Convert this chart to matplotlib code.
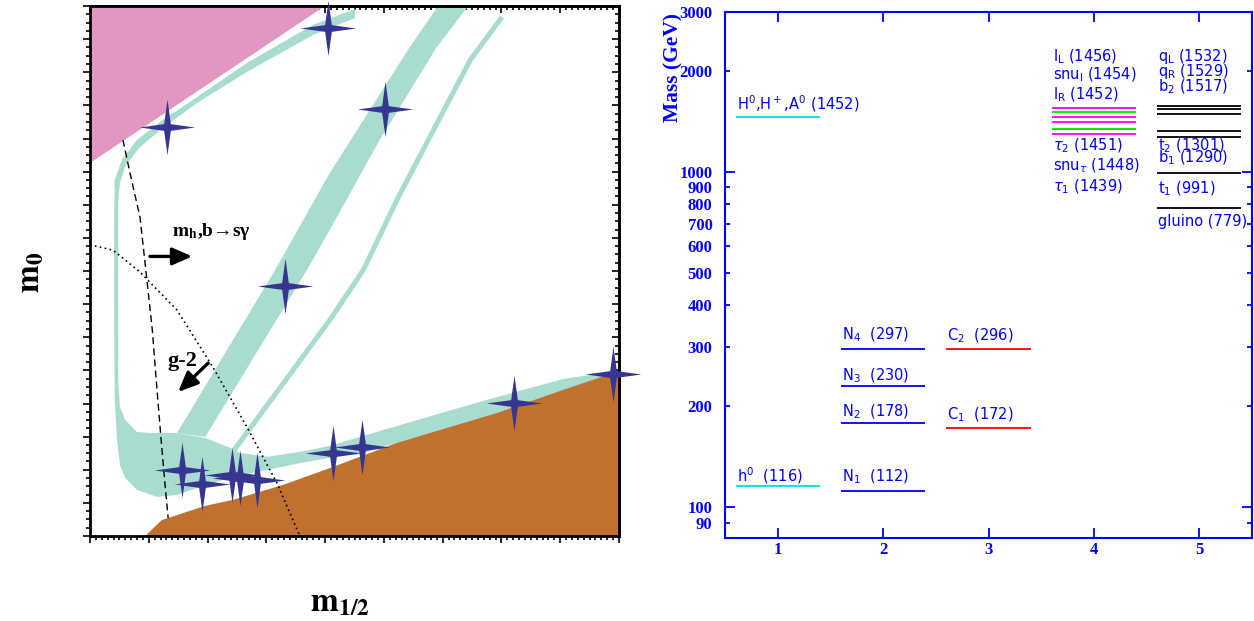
import numpy as np
import matplotlib
matplotlib.use("Agg")
import matplotlib.pyplot as plt
from matplotlib.path import Path
from matplotlib.ticker import MultipleLocator, NullFormatter, NullLocator

# ---- left panel: (m_1/2, m_0) plane, arbitrary units
pink_x = [0, 0, 400]
pink_y = [1126, 1600, 1600]

brown_x = [94, 122, 196, 243, 328, 408, 522, 692, 805, 900, 900]
brown_y = [0, 48, 91, 109, 154, 205, 281, 371, 441, 498, 0]

# focus-point strip + bulk region + coannihilation strip (one outline)
teal_x = [451, 379, 267, 182, 124, 80, 54, 42, 41, 41, 42, 46, 51, 60, 80, 114, 148, 187,
          243, 301, 357, 408, 476, 539, 692, 805, 900,
          900, 839, 805, 663, 522, 476, 408, 357, 301, 255, 243, 196, 148, 102, 80, 60,
          51, 48, 48, 48, 51, 60, 85, 124, 182, 267, 379, 451]
teal_y = [1591, 1543, 1428, 1325, 1256, 1196, 1135, 1075, 954, 713, 411, 290, 214, 175, 139, 118, 124, 148,
          178, 199, 220, 236, 257, 290, 356, 426, 483,
          498, 483, 474, 405, 332, 308, 272, 254, 239, 251, 263, 296, 311, 311, 314, 350,
          389, 471, 713, 1014, 1066, 1117, 1174, 1232, 1307, 1401, 1512, 1564]

# rapid-annihilation funnel band
funnel_x = [148, 315, 408, 476, 544, 590, 641, 590, 493, 408, 369, 196]
funnel_y = [311, 803, 1096, 1286, 1476, 1594, 1594, 1476, 1196, 924, 803, 299]

# thin second funnel strip
thin_x = [243, 408, 465, 522, 596, 647, 701]
thin_y = [254, 652, 803, 1014, 1265, 1437, 1567]

# m_h / b->s gamma (dashed) and g-2 (dotted) limits
mh_x = [56, 68, 85, 95, 106, 114, 121, 128, 133]
mh_y = [1196, 1096, 963, 803, 622, 441, 290, 148, 54]
g2_x = [0, 39, 85, 148, 209, 267, 318, 357]
g2_y = [879, 863, 797, 682, 510, 329, 160, 0]

# benchmark points
star_x = [405, 131, 502, 332, 157, 191, 242, 255, 284, 413, 463, 721, 890]
star_y = [1534, 1235, 1289, 755, 199, 157, 184, 175, 169, 251, 269, 402, 489]

# ---- right panel: mass spectrum
lvl_col = [1, 1, 2, 2, 2, 2, 3, 3, 4, 4, 4, 4, 4, 4, 5, 5, 5, 5, 5, 5, 5]
lvl_mass = [116, 1455, 112, 178, 230, 297, 172, 296,
            1554, 1509, 1455, 1405, 1348, 1299,
            1572, 1543, 1488, 1321, 1273, 994, 781]
lvl_color = ["#00e0e0", "#00e0e0", "#0000ff", "#0000ff", "#0000ff", "#0000ff", "#ff0000", "#ff0000",
             "#ff00ff", "#00e000", "#ff00ff", "#ff00ff", "#00e000", "#ff00ff",
             "k", "k", "k", "k", "k", "k", "k"]

lab_col = [1, 1, 2, 2, 2, 2, 3, 3, 4, 4, 4, 4, 4, 4, 5, 5, 5, 5, 5, 5, 5]
lab_pos = [1594, 124.4, 328, 247, 193, 123.6, 324, 189,
           2201, 1954, 1703, 1194, 1041, 903,
           2215, 2000, 1795, 1194, 1100, 893, 713]
lab_text = ["H$^0$,H$^+$,A$^0$ (1452)", "h$^0$  (116)",
            "N$_4$  (297)", "N$_3$  (230)", "N$_2$  (178)", "N$_1$  (112)",
            "C$_2$  (296)", "C$_1$  (172)",
            r"l$_\mathrm{L}$ (1456)", r"snu$_\mathrm{l}$ (1454)", r"l$_\mathrm{R}$ (1452)",
            r"$\tau_2$ (1451)", r"snu$_\tau$ (1448)", r"$\tau_1$ (1439)",
            r"q$_\mathrm{L}$ (1532)", r"q$_\mathrm{R}$ (1529)", "b$_2$ (1517)",
            "t$_2$ (1301)", "b$_1$ (1290)", "t$_1$ (991)", "gluino (779)"]

ytick_major = [100, 1000]
ytick_minor = [90, 200, 300, 400, 500, 600, 700, 800, 900, 2000, 3000]
xtick_vals = [1, 2, 3, 4, 5]

TEAL, PINK, BROWN, NAVY = "#a8dccf", "#e396c0", "#c0702f", "#36358f"
BLUE = "#0000ff"

fig = plt.figure(figsize=(12.54, 6.21), dpi=100)

# ================= left panel
ax = fig.add_axes([90 / 1254, 85 / 621, 529 / 1254, 530 / 621])
ax.set_xlim(0, 900)
ax.set_ylim(0, 1600)
ax.fill(pink_x, pink_y, color=PINK, lw=0, zorder=1)
ax.fill(teal_x, teal_y, color=TEAL, lw=0, zorder=1)
ax.fill(funnel_x, funnel_y, color=TEAL, lw=0, zorder=1)
ax.plot(thin_x, thin_y, color=TEAL, lw=3.6, solid_capstyle="butt", zorder=1)
ax.fill(brown_x, brown_y, color=BROWN, lw=0, zorder=2)
ax.plot(mh_x, mh_y, color="k", lw=1.0, ls=(0, (5, 3)), zorder=3)
ax.plot(g2_x, g2_y, color="k", lw=1.2, ls=(0, (1, 2)), zorder=3)

# four-pointed star marker: straight spikes round a small core
ang = np.arange(8) * np.pi / 4
rad = np.where(np.arange(8) % 2 == 0, 1.0, 0.17)
star = Path(np.column_stack([rad * np.cos(ang), rad * np.sin(ang)]))
ax.scatter(star_x, star_y, s=40 ** 2, marker=star, color=NAVY, linewidths=0,
           zorder=5, clip_on=False)

ax.text(139, 918, r"$\mathbf{m_h}$,b→sγ", fontsize=14, fontweight="bold",
        family="Liberation Serif", math_fontfamily="stix", va="center", ha="left", zorder=6)
ax.annotate("", xy=(174, 844), xytext=(102, 844),
            arrowprops=dict(arrowstyle="-|>,head_length=0.8,head_width=0.35", lw=2.4,
                            color="k", mutation_scale=15, shrinkA=0, shrinkB=0), zorder=6)
ax.text(132, 528, "g-2", fontsize=16, fontweight="bold", family="Liberation Serif",
        va="center", ha="left", zorder=6)
ax.annotate("", xy=(150, 435), xytext=(201, 522),
            arrowprops=dict(arrowstyle="-|>,head_length=0.8,head_width=0.35", lw=2.4,
                            color="k", mutation_scale=15, shrinkA=0, shrinkB=0), zorder=6)

for sp in ax.spines.values():
    sp.set_linewidth(2)
ax.xaxis.set_major_locator(MultipleLocator(100))
ax.xaxis.set_minor_locator(MultipleLocator(10))
ax.yaxis.set_major_locator(MultipleLocator(100))
ax.yaxis.set_minor_locator(MultipleLocator(25))
ax.tick_params(which="both", direction="out", top=False, right=False,
               labelbottom=False, labelleft=False, width=1.2)
ax.tick_params(which="major", length=5)
ax.tick_params(which="minor", length=3)

secx = ax.secondary_xaxis("top")
secx.xaxis.set_major_locator(MultipleLocator(100))
secx.xaxis.set_minor_locator(MultipleLocator(10))
secx.xaxis.set_major_formatter(NullFormatter())
secx.tick_params(which="both", direction="in", width=1.2)
secx.tick_params(which="major", length=5)
secx.tick_params(which="minor", length=3)
secx.spines["top"].set_linewidth(2)
secy = ax.secondary_yaxis("right")
secy.yaxis.set_major_locator(MultipleLocator(100))
secy.yaxis.set_minor_locator(MultipleLocator(25))
secy.yaxis.set_major_formatter(NullFormatter())
secy.tick_params(which="both", direction="in", width=1.2)
secy.tick_params(which="major", length=5)
secy.tick_params(which="minor", length=3)
secy.spines["right"].set_linewidth(2)

fig.text(30 / 1254, 1 - 272 / 621, r"$\mathbf{m_0}$", rotation=90, fontsize=24,
         math_fontfamily="stix", ha="center", va="center")
fig.text(340 / 1254, 1 - 602 / 621, r"$\mathbf{m_{1/2}}$", fontsize=24,
         math_fontfamily="stix", ha="center", va="center")

# ================= right panel
bx = fig.add_axes([725 / 1254, 83 / 621, 527 / 1254, 526 / 621])
bx.set_yscale("log")
bx.set_xlim(0.5, 5.5)
bx.set_ylim(81, 3000)
for col, m, clr in zip(lvl_col, lvl_mass, lvl_color):
    bx.hlines(m, col - 0.4, col + 0.4, colors=clr, lw=1.3)
for col, y, txt in zip(lab_col, lab_pos, lab_text):
    bx.text(col - 0.39, y, txt, fontsize=10.5, color=BLUE, ha="left", va="center",
            family="DejaVu Sans")

tick_font = dict(fontweight="bold", family="Liberation Serif", fontsize=12, color=BLUE)
bx.set_yticks(ytick_major, [str(v) for v in ytick_major], **tick_font)
bx.set_yticks(ytick_minor, [str(v) for v in ytick_minor], minor=True, **tick_font)
bx.set_xticks(xtick_vals, [str(v) for v in xtick_vals], **tick_font)
bx.xaxis.set_minor_locator(NullLocator())
bx.tick_params(which="both", direction="in", top=True, right=True, color=BLUE, width=1.3)
bx.tick_params(axis="y", which="major", length=7, pad=9)
bx.tick_params(axis="y", which="minor", length=3.6, pad=9)
bx.tick_params(axis="x", which="major", length=7, pad=3)
for sp in bx.spines.values():
    sp.set_color(BLUE)
    sp.set_linewidth(1.5)

fig.text(673 / 1254, 1 - 67 / 621, "Mass (GeV)", rotation=90, fontsize=15.5,
         fontweight="bold", family="Liberation Serif", color=BLUE, ha="center", va="center")

fig.savefig("out.png", dpi=100)
